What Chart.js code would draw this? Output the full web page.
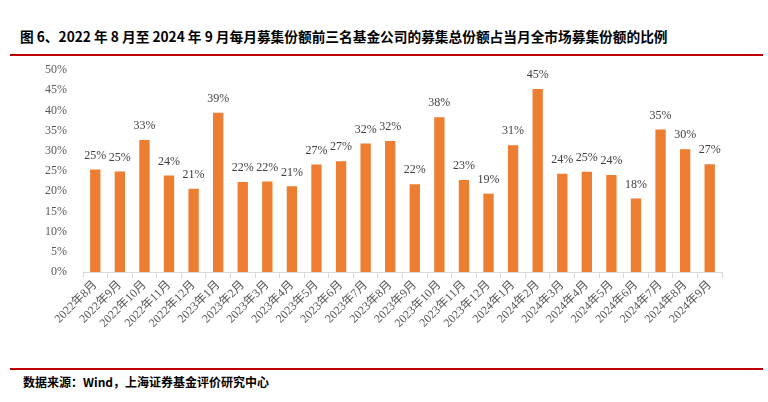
<!DOCTYPE html>
<html>
<head>
<meta charset="utf-8">
<script src="https://cdn.jsdelivr.net/npm/chart.js@4"></script>
<style>
  body { margin: 0; width: 768px; height: 402px; background: #fff; position: relative; overflow: hidden; }
  #title { position: absolute; left: 20px; top: 27px; font: bold 13.7px "Noto Sans CJK SC", sans-serif; color: #000; white-space: nowrap; line-height: 18px; }
  .redline { position: absolute; left: 10px; width: 753px; height: 2px; background: #c00000; }
  #source { position: absolute; left: 23px; top: 374px; font: bold 12px "Noto Sans CJK SC", sans-serif; color: #000; white-space: nowrap; line-height: 16px; }
  #chartBox { position: absolute; left: 0; top: 0; width: 768px; height: 402px; }
</style>
</head>
<body>
<div id="title">图 6、2022 年 8 月至 2024 年 9 月每月募集份额前三名基金公司的募集总份额占当月全市场募集份额的比例</div>
<div class="redline" style="top:54px"></div>
<div class="redline" style="top:368px"></div>
<div id="source">数据来源：Wind，上海证券基金评价研究中心</div>
<div id="chartBox"><canvas id="shareChart" width="768" height="402"></canvas></div>
<script>
// months on the x axis
const months = [
    '2022年8月', '2022年9月', '2022年10月', '2022年11月', '2022年12月',
    '2023年1月', '2023年2月', '2023年3月', '2023年4月', '2023年5月', '2023年6月',
    '2023年7月', '2023年8月', '2023年9月', '2023年10月', '2023年11月', '2023年12月',
    '2024年1月', '2024年2月', '2024年3月', '2024年4月', '2024年5月', '2024年6月',
    '2024年7月', '2024年8月', '2024年9月'
];

// share of top-3 companies (%)
const topThreeShare = [
    25.4, 24.9, 32.7, 23.9, 20.6,
    39.4, 22.3, 22.4, 21.2, 26.6, 27.4,
    31.8, 32.4, 21.7, 38.3, 22.8, 19.4,
    31.4, 45.3, 24.3, 24.8, 24.0, 18.2,
    35.3, 30.4, 26.7
];

const yTicks = [0, 5, 10, 15, 20, 25, 30, 35, 40, 45, 50];

const serif = '"Liberation Serif", "Times New Roman", "Noto Sans CJK SC", serif';

// draws rounded percentages above each bar
const barLabels = {
    id: 'barLabels',
    afterDatasetsDraw(chart) {
        const ctx = chart.ctx;
        const meta = chart.getDatasetMeta(0);
        ctx.save();
        ctx.font = '12px ' + serif;
        ctx.fillStyle = '#404040';
        ctx.textAlign = 'center';
        ctx.textBaseline = 'bottom';
        meta.data.forEach((bar, i) => {
            ctx.fillText(Math.round(topThreeShare[i]) + '%', bar.x, bar.y - 8);
        });
        ctx.restore();
    }
};

const ctx = document.getElementById('shareChart').getContext('2d');
window.myChart = new Chart(ctx, {
    type: 'bar',
    data: {
        labels: months,
        datasets: [{
            data: topThreeShare,
            backgroundColor: '#ED7D31',
            barPercentage: 0.42,
            categoryPercentage: 1.0
        }]
    },
    options: {
        responsive: false,
        animation: false,
        layout: { padding: { top: 70, right: 46, left: 0, bottom: 0 } },
        plugins: { legend: { display: false }, tooltip: { enabled: false } },
        scales: {
            x: {
                grid: { drawOnChartArea: false, color: '#d9d9d9', tickLength: 6, offset: true },
                border: { color: '#d9d9d9' },
                ticks: {
                    minRotation: 45, maxRotation: 45, autoSkip: false,
                    color: '#595959', font: { family: serif, size: 12 }, padding: 0
                },
                afterFit(scale) { scale.height = 402 - 272; }
            },
            y: {
                min: 0, max: 50,
                grid: { display: false },
                border: { display: false },
                afterBuildTicks(scale) { scale.ticks = yTicks.map(v => ({ value: v })); },
                ticks: {
                    color: '#595959', font: { family: serif, size: 12 }, padding: 8,
                    callback: v => v + '%'
                },
                afterFit(scale) { scale.width = 83; }
            }
        }
    },
    plugins: [barLabels]
});
</script>
</body>
</html>
